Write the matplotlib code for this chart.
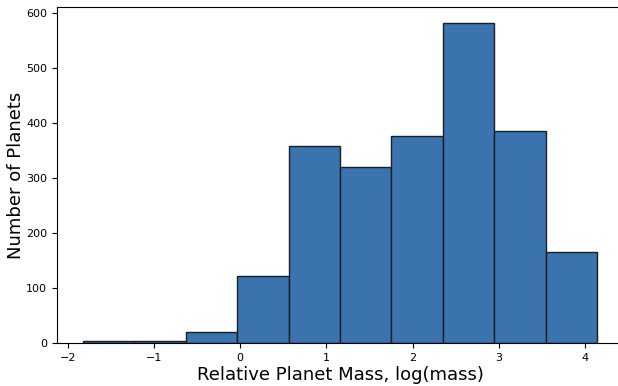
import numpy as np
import matplotlib.pyplot as plt

# histogram bin edges (log mass) and counts
bin_edges = [-1.826, -1.229, -0.632, -0.036, 0.561, 1.158, 1.754, 2.351, 2.948, 3.544, 4.141]
counts = [3, 4, 20, 122, 359, 321, 376, 582, 385, 166]

fig = plt.figure(figsize=(6.18, 3.86), dpi=100)
ax = fig.add_axes([57 / 618, 43 / 386, 566 / 618, 336 / 386])

ax.hist(bin_edges[:-1], bins=bin_edges, weights=counts,
        color='#3a73ad', edgecolor='#1a1f26', linewidth=1.0)

ax.set_xlabel('Relative Planet Mass, log(mass)', fontsize=13, labelpad=2)
ax.set_ylabel('Number of Planets', fontsize=13, labelpad=1)
ax.tick_params(labelsize=8)

fig.savefig('out.png', dpi=100)
